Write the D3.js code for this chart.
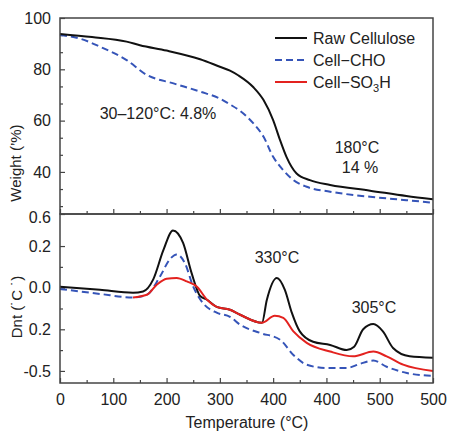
<!DOCTYPE html>
<html>
<head>
<meta charset="utf-8">
<script src="https://cdn.jsdelivr.net/npm/d3@7"></script>
<style>
  body { margin: 0; background: #fff; }
  text { font-family: "Liberation Sans", Arial, sans-serif; fill: #222; }
</style>
</head>
<body>
<div id="my_chart"></div>
<script>
// x positions (temperature units on the drawn axis) and the tick labels as printed
var xTicks = [0, 100, 200, 300, 400, 500, 600, 700];
var xTickLabels = ["0", "100", "200", "300", "400", "400", "500", "500"];

// top panel: weight loss curves
var tgaTempRaw = [0, 60, 125, 150, 200, 263, 300, 319, 335, 363, 382, 400, 413, 425, 444, 469, 507, 582, 650, 700];
var tgaRaw = [93.8, 92.6, 90.8, 89.4, 87.3, 83.9, 81.0, 79.5, 77.6, 73.0, 68.0, 60.2, 52.4, 45.9, 39.4, 36.8, 34.9, 32.7, 30.6, 29.3];
var tgaTempCho = [0, 40, 75, 125, 163, 213, 263, 300, 319, 338, 363, 382, 400, 419, 438, 463, 507, 582, 650, 700];
var tgaCho = [93.4, 91.8, 88.8, 83.6, 77.8, 74.5, 71.3, 68.6, 66.3, 63.8, 58.9, 53.7, 45.9, 40.7, 36.8, 34.2, 32.3, 30.3, 29.0, 28.0];
var weightTicks = [100, 80, 60, 40];

// bottom panel: derivative curves
var dtgTempRaw = [0, 75, 137, 156, 175, 194, 212, 231, 247, 263, 276, 294, 319, 338, 379, 388, 407, 422, 435, 450, 475, 507, 538, 552, 569, 588, 606, 625, 656, 700];
var dtgRaw = [0.005, -0.01, -0.024, -0.018, 0.04, 0.18, 0.275, 0.215, 0.07, -0.04, -0.058, -0.092, -0.106, -0.13, -0.169, -0.06, 0.047, -0.01, -0.12, -0.21, -0.26, -0.275, -0.3, -0.284, -0.2, -0.175, -0.21, -0.29, -0.33, -0.337];
var dtgTempCho = [0, 75, 137, 163, 188, 206, 219, 234, 250, 268, 294, 319, 338, 375, 413, 438, 463, 500, 538, 563, 588, 613, 651, 700];
var dtgCho = [-0.006, -0.03, -0.047, -0.034, 0.055, 0.136, 0.16, 0.12, 0.005, -0.073, -0.12, -0.14, -0.178, -0.217, -0.25, -0.323, -0.37, -0.386, -0.386, -0.366, -0.35, -0.38, -0.41, -0.424];
var dtgTempSo3h = [137, 163, 182, 200, 219, 238, 257, 276, 294, 319, 338, 379, 403, 419, 438, 463, 507, 550, 588, 613, 644, 700];
var dtgSo3h = [-0.047, -0.034, 0.015, 0.043, 0.047, 0.03, 0.005, -0.058, -0.092, -0.106, -0.13, -0.169, -0.135, -0.145, -0.21, -0.265, -0.307, -0.33, -0.307, -0.33, -0.37, -0.40];
var dtgTicks = [0.354, 0.2, 0.0, -0.2, -0.4];
var dtgTickLabels = ["0.6", "0.2", "0.0", "0.2", "-0.5"];

var W = 449, H = 431;
var left = 60, right = 433, top1 = 18, mid = 214, bottom = 383;

var svg = d3.select("#my_chart").append("svg")
  .attr("width", W).attr("height", H);
svg.append("rect").attr("width", W).attr("height", H).attr("fill", "#fff");

var x = d3.scaleLinear().domain([0, 700]).range([left, right]);
var yTop = d3.scaleLinear().domain([23.6, 100]).range([mid, top1]);
var yBot = d3.scaleLinear().domain([-0.458, 0.354]).range([bottom, mid]);

var axisColor = "#444";

// ----- axes -----
// bottom axis of the lower panel (ticks point inside)
svg.append("g")
  .attr("transform", "translate(0," + bottom + ")")
  .call(d3.axisBottom(x).tickValues(xTicks).tickSize(-5).tickPadding(11)
    .tickFormat(function (d, i) { return xTickLabels[i]; }))
  .call(function (g) {
    g.select(".domain").remove();
    g.selectAll("line").attr("stroke", axisColor).attr("stroke-width", 1.2);
    g.selectAll("text").attr("font-size", "16px");
  });
// minor x ticks on the lower panel bottom
svg.append("g")
  .attr("transform", "translate(0," + bottom + ")")
  .call(d3.axisBottom(x).tickValues(d3.range(50, 700, 100)).tickSize(-3).tickFormat(""))
  .call(function (g) {
    g.select(".domain").remove();
    g.selectAll("line").attr("stroke", axisColor).attr("stroke-width", 1.2);
  });
// ticks on the shared border (belong to top panel, pointing up)
svg.append("g")
  .attr("transform", "translate(0," + mid + ")")
  .call(d3.axisBottom(x).tickValues(xTicks).tickSize(-5).tickFormat(""))
  .call(function (g) {
    g.select(".domain").remove();
    g.selectAll("line").attr("stroke", axisColor).attr("stroke-width", 1.2);
  });
svg.append("g")
  .attr("transform", "translate(0," + mid + ")")
  .call(d3.axisBottom(x).tickValues(d3.range(50, 700, 100)).tickSize(-3).tickFormat(""))
  .call(function (g) {
    g.select(".domain").remove();
    g.selectAll("line").attr("stroke", axisColor).attr("stroke-width", 1.2);
  });

// left axis top panel
svg.append("g")
  .attr("transform", "translate(" + left + ",0)")
  .call(d3.axisLeft(yTop).tickValues(weightTicks).tickSize(-5).tickPadding(9))
  .call(function (g) {
    g.select(".domain").remove();
    g.selectAll("line").attr("stroke", axisColor).attr("stroke-width", 1.2);
    g.selectAll("text").attr("font-size", "16px");
  });
svg.append("g")
  .attr("transform", "translate(" + left + ",0)")
  .call(d3.axisLeft(yTop).tickValues([93.33, 86.67, 73.33, 66.67, 53.33, 46.67, 33.33, 26.67]).tickSize(-3).tickFormat(""))
  .call(function (g) {
    g.select(".domain").remove();
    g.selectAll("line").attr("stroke", axisColor).attr("stroke-width", 1.2);
  });

// left axis lower panel
svg.append("g")
  .attr("transform", "translate(" + left + ",0)")
  .call(d3.axisLeft(yBot).tickValues(dtgTicks).tickSize(-5).tickPadding(9)
    .tickFormat(function (d, i) { return dtgTickLabels[i]; }))
  .call(function (g) {
    g.select(".domain").remove();
    g.selectAll("line").attr("stroke", axisColor).attr("stroke-width", 1.2);
    g.selectAll("text").attr("font-size", "16px");
    g.select(".tick text").attr("dy", "0.55em");
  });
svg.append("g")
  .attr("transform", "translate(" + left + ",0)")
  .call(d3.axisLeft(yBot).tickValues([0.1, -0.1, -0.3]).tickSize(-3).tickFormat(""))
  .call(function (g) {
    g.select(".domain").remove();
    g.selectAll("line").attr("stroke", axisColor).attr("stroke-width", 1.2);
  });

// ----- curves -----
var lineTop = d3.line().curve(d3.curveMonotoneX)
  .x(function (d) { return x(d[0]); })
  .y(function (d) { return yTop(d[1]); });
var lineBot = d3.line().curve(d3.curveMonotoneX)
  .x(function (d) { return x(d[0]); })
  .y(function (d) { return yBot(d[1]); });

var black = "#111", blue = "#3554b8", red = "#e3221f";

svg.append("path").datum(d3.zip(tgaTempCho, tgaCho))
  .attr("d", lineTop).attr("fill", "none").attr("stroke", blue)
  .attr("stroke-width", 2).attr("stroke-dasharray", "7,4");
svg.append("path").datum(d3.zip(tgaTempRaw, tgaRaw))
  .attr("d", lineTop).attr("fill", "none").attr("stroke", black).attr("stroke-width", 2);

svg.append("path").datum(d3.zip(dtgTempCho, dtgCho))
  .attr("d", lineBot).attr("fill", "none").attr("stroke", blue)
  .attr("stroke-width", 2).attr("stroke-dasharray", "7,4");
svg.append("path").datum(d3.zip(dtgTempRaw, dtgRaw))
  .attr("d", lineBot).attr("fill", "none").attr("stroke", black).attr("stroke-width", 2);
svg.append("path").datum(d3.zip(dtgTempSo3h, dtgSo3h))
  .attr("d", lineBot).attr("fill", "none").attr("stroke", red).attr("stroke-width", 2);

// ----- frames -----
[[top1, mid], [mid, bottom]].forEach(function (p) {
  svg.append("rect")
    .attr("x", left).attr("y", p[0])
    .attr("width", right - left).attr("height", p[1] - p[0])
    .attr("fill", "none").attr("stroke", axisColor).attr("stroke-width", 1.5);
});

// ----- legend -----
var legendItems = [
  { name: "Raw Cellulose", color: black, dash: null },
  { name: "Cell\u2212CHO", color: blue, dash: "7,4" },
  { name: "Cell\u2212SO", sub: "3", after: "H", color: red, dash: null }
];
var legend = svg.append("g").attr("transform", "translate(275,38)");
legendItems.forEach(function (d, i) {
  var row = legend.append("g").attr("transform", "translate(0," + i * 22 + ")");
  row.append("line").attr("x1", 0).attr("x2", 32).attr("y1", 0).attr("y2", 0)
    .attr("stroke", d.color).attr("stroke-width", 2)
    .attr("stroke-dasharray", d.dash);
  var t = row.append("text").attr("x", 38).attr("y", 6).attr("font-size", "16px").text(d.name);
  if (d.sub) {
    t.append("tspan").attr("font-size", "11px").attr("dy", 4).text(d.sub);
    t.append("tspan").attr("dy", -4).text(d.after);
  }
});

// ----- annotations -----
function note(str, tx, ty, size) {
  svg.append("text").attr("x", tx).attr("y", ty).attr("text-anchor", "middle")
    .attr("font-size", size).text(str);
}
note("30\u2013120\u00b0C: 4.8%", 158, 119, "16px");
note("180\u00b0C", 357, 153, "16px");
note("14 %", 360, 173, "16px");
note("330\u00b0C", 277, 263, "16px");
note("305\u00b0C", 374, 313, "16px");

// ----- axis titles -----
svg.append("text").attr("x", 247).attr("y", 428).attr("text-anchor", "middle")
  .attr("font-size", "16px").text("Temperature (\u00b0C)");
svg.append("text").attr("transform", "translate(21,163) rotate(-90)")
  .attr("text-anchor", "middle").attr("font-size", "15px").text("Weight (\u2019%)");
svg.append("text").attr("transform", "translate(22,307) rotate(-90)")
  .attr("text-anchor", "middle").attr("font-size", "15px").text("Dnt (\u02d9C \u02d9)");
</script>
</body>
</html>
